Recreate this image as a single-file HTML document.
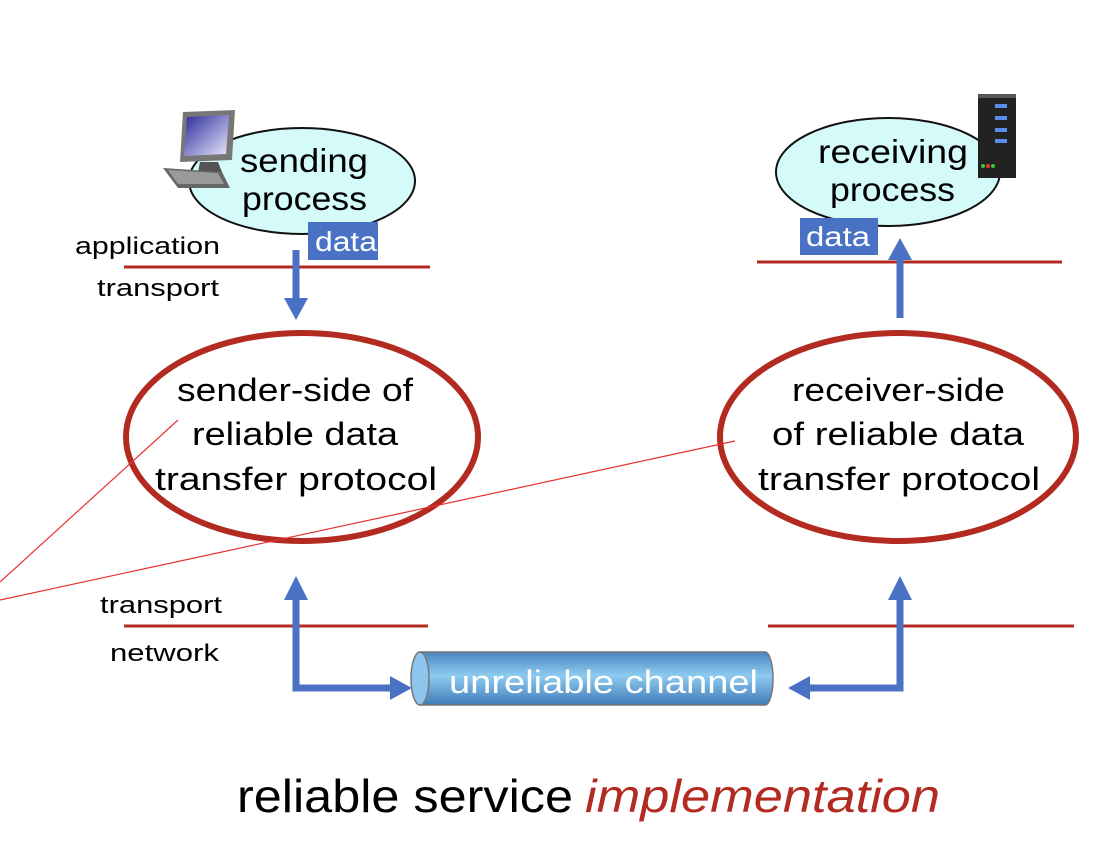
<!DOCTYPE html>
<html><head><style>body{margin:0;background:#fff}svg{display:block}</style></head><body>
<svg width="1119" height="866" viewBox="0 0 1119 866" xmlns="http://www.w3.org/2000/svg" font-family="'Liberation Sans', sans-serif">
<defs>
<linearGradient id="cyl" x1="0" y1="0" x2="0" y2="1">
<stop offset="0" stop-color="#4a86c0"/><stop offset="0.45" stop-color="#8ecbf0"/><stop offset="1" stop-color="#3f7bb8"/>
</linearGradient>
<linearGradient id="scr" x1="0" y1="0" x2="1" y2="1"><stop offset="0" stop-color="#2a2a9a"/><stop offset="1" stop-color="#e8e8ff"/></linearGradient>
</defs>
<!-- sending process -->
<ellipse cx="302" cy="181" rx="113" ry="53" fill="#d4fafa" stroke="#111" stroke-width="2"/>
<g>
<polygon points="183,112 235,110 232,160 180,162" fill="#777"/>
<polygon points="187,117 229,115 226,154 184,156" fill="url(#scr)"/>
<polygon points="200,162 218,162 222,172 198,172" fill="#555"/>
<polygon points="163,168 222,172 230,188 178,188" fill="#666"/>
<polygon points="168,170 218,173 224,184 178,184" fill="#999"/>
</g>
<text x="240" y="172" font-size="33" textLength="128" lengthAdjust="spacingAndGlyphs">sending</text>
<text x="242" y="210" font-size="33" textLength="125" lengthAdjust="spacingAndGlyphs">process</text>
<rect x="308" y="222" width="70" height="38" fill="#4a72c4"/>
<text x="315" y="251" font-size="28" fill="#fff" textLength="62" lengthAdjust="spacingAndGlyphs">data</text>
<text x="75" y="254" font-size="24" textLength="145" lengthAdjust="spacingAndGlyphs">application</text>
<line x1="124" y1="267" x2="430" y2="267" stroke="#b22a20" stroke-width="3"/>
<text x="97" y="296" font-size="24" textLength="122" lengthAdjust="spacingAndGlyphs">transport</text>
<line x1="296" y1="250" x2="296" y2="300" stroke="#4a72c4" stroke-width="7"/>
<polygon points="284,298 308,298 296,320" fill="#4a72c4"/>
<!-- receiving process -->
<ellipse cx="888" cy="172" rx="112" ry="54" fill="#d4fafa" stroke="#111" stroke-width="2"/>
<text x="818" y="163" font-size="33" textLength="150" lengthAdjust="spacingAndGlyphs">receiving</text>
<text x="830" y="201" font-size="33" textLength="125" lengthAdjust="spacingAndGlyphs">process</text>
<g>
<rect x="978" y="94" width="38" height="84" fill="#222"/>
<rect x="978" y="94" width="38" height="4" fill="#555"/>
<rect x="995" y="104" width="12" height="4" fill="#5a8cf0"/>
<rect x="995" y="116" width="12" height="4" fill="#5a8cf0"/>
<rect x="995" y="128" width="12" height="4" fill="#5a8cf0"/>
<rect x="995" y="139" width="12" height="4" fill="#5a8cf0"/>
<circle cx="983" cy="166" r="2" fill="#3c3"/><circle cx="988" cy="166" r="2" fill="#e33"/><circle cx="993" cy="166" r="2" fill="#3c3"/>
</g>
<rect x="800" y="218" width="78" height="37" fill="#4a72c4"/>
<text x="806" y="246" font-size="28" fill="#fff" textLength="64" lengthAdjust="spacingAndGlyphs">data</text>
<line x1="757" y1="262" x2="1062" y2="262" stroke="#b22a20" stroke-width="3"/>
<line x1="900" y1="318" x2="900" y2="258" stroke="#4a72c4" stroke-width="7"/>
<polygon points="888,260 912,260 900,238" fill="#4a72c4"/>
<!-- rdt ellipses -->
<ellipse cx="302" cy="437" rx="176" ry="104" fill="none" stroke="#b22a20" stroke-width="6"/>
<text x="177" y="401" font-size="32" textLength="236" lengthAdjust="spacingAndGlyphs">sender-side of</text>
<text x="192" y="445" font-size="32" textLength="206" lengthAdjust="spacingAndGlyphs">reliable data</text>
<text x="155" y="490" font-size="32" textLength="282" lengthAdjust="spacingAndGlyphs">transfer protocol</text>
<ellipse cx="898" cy="437" rx="178" ry="104" fill="none" stroke="#b22a20" stroke-width="6"/>
<text x="792" y="401" font-size="32" textLength="213" lengthAdjust="spacingAndGlyphs">receiver-side</text>
<text x="772" y="445" font-size="32" textLength="252" lengthAdjust="spacingAndGlyphs">of reliable data</text>
<text x="758" y="490" font-size="32" textLength="282" lengthAdjust="spacingAndGlyphs">transfer protocol</text>
<!-- thin red lines -->
<line x1="0" y1="582" x2="178" y2="420" stroke="#e83030" stroke-width="1.2"/>
<line x1="0" y1="600" x2="735" y2="441" stroke="#e83030" stroke-width="1.2"/>
<!-- transport/network -->
<text x="100" y="613" font-size="24" textLength="122" lengthAdjust="spacingAndGlyphs">transport</text>
<text x="110" y="661" font-size="24" textLength="109" lengthAdjust="spacingAndGlyphs">network</text>
<line x1="124" y1="626" x2="428" y2="626" stroke="#b22a20" stroke-width="3"/>
<line x1="768" y1="626" x2="1074" y2="626" stroke="#b22a20" stroke-width="3"/>
<!-- left arrow -->
<polyline points="296,598 296,688 392,688" fill="none" stroke="#4a72c4" stroke-width="7"/>
<polygon points="284,600 308,600 296,576" fill="#4a72c4"/>
<polygon points="390,676 390,700 412,688" fill="#4a72c4"/>
<!-- right arrow -->
<polyline points="900,598 900,688 808,688" fill="none" stroke="#4a72c4" stroke-width="7"/>
<polygon points="888,600 912,600 900,576" fill="#4a72c4"/>
<polygon points="810,676 810,700 788,688" fill="#4a72c4"/>
<!-- cylinder -->
<path d="M420,652 H765 A8,26.5 0 0 1 765,705 H420 Z" fill="url(#cyl)" stroke="#777" stroke-width="1.5"/>
<ellipse cx="420" cy="678.5" rx="9" ry="26.5" fill="#8cc6ee" stroke="#777" stroke-width="1.5"/>
<text x="449" y="693" font-size="32" fill="#fff" textLength="309" lengthAdjust="spacingAndGlyphs">unreliable channel</text>
<!-- title -->
<text x="237" y="812" font-size="46" textLength="336" lengthAdjust="spacingAndGlyphs">reliable service</text>
<text x="585" y="812" font-size="46" fill="#b22a20" font-style="italic" textLength="355" lengthAdjust="spacingAndGlyphs">implementation</text>
</svg>
</body></html>
